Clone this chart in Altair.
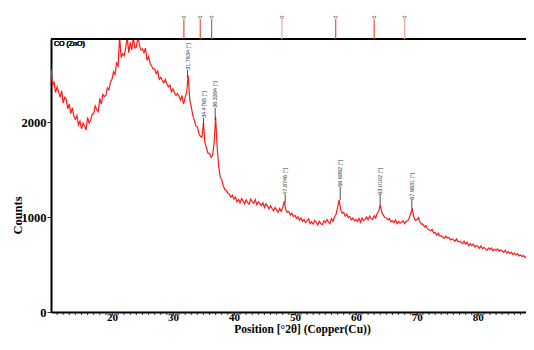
import altair as alt
import pandas as pd

# ---- data ----
theta_start = 10.0
theta_step = 0.25
counts = [
    2560, 2390, 2420, 2310,   # 10
    2370, 2320, 2260, 2330,   # 11
    2200, 2260, 2240, 2140,   # 12
    2190, 2090, 2150, 2060,   # 13
    2030, 2070, 1970, 2010,   # 14
    1930, 1990, 1960, 1915,   # 15
    2050, 1990, 2020, 2080,   # 16
    2090, 2170, 2130, 2110,   # 17
    2250, 2190, 2290, 2270,   # 18
    2280, 2360, 2340, 2420,   # 19
    2450, 2530, 2500, 2620,   # 20
    2590, 2900, 2680, 2720,   # 21
    2700, 2780, 2900, 2730,   # 22
    2840, 2760, 2900, 2780,   # 23
    2790, 2900, 2810, 2760,   # 24
    2770, 2730, 2780, 2650,   # 25
    2690, 2620, 2590, 2560,   # 26
    2560, 2510, 2540, 2450,   # 27
    2470, 2440, 2410, 2450,   # 28
    2400, 2370, 2390, 2320,   # 29
    2350, 2310, 2280, 2300,   # 30
    2270, 2230, 2280, 2190,   # 31
    2260, 2320, 2490, 2240,   # 32
    2160, 2070, 2020, 1960,   # 33
    1950, 1880, 1850, 1840,   # 34
    1990, 1780, 1730, 1670,   # 35
    1670, 1630, 1650, 1780,   # 36
    2050, 1740, 1530, 1420,   # 37
    1390, 1330, 1290, 1280,   # 38
    1250, 1240, 1210, 1230,   # 39
    1190, 1210, 1160, 1185,   # 40
    1150, 1195, 1170, 1140,   # 41
    1180, 1150, 1135, 1190,   # 42
    1160, 1145, 1185, 1130,   # 43
    1160, 1140, 1120, 1150,   # 44
    1100, 1140, 1115, 1085,   # 45
    1120, 1090, 1065, 1100,   # 46
    1075, 1050, 1090, 1060,   # 47
    1100, 1165, 1080, 1050,   # 48
    1060, 1020, 1040, 1005,   # 49
    1020, 985, 1005, 965,     # 50
    990, 955, 975, 940,       # 51
    960, 980, 930, 950,       # 52
    925, 965, 945, 915,       # 53
    955, 930, 920, 960,       # 54
    940, 975, 950, 930,       # 55
    985, 955, 1000, 1030,     # 56
    1100, 1180, 1080, 1040,   # 57
    1050, 1010, 1030, 995,    # 58
    1005, 970, 990, 960,      # 59
    975, 955, 985, 945,       # 60
    990, 960, 975, 1000,      # 61
    970, 1010, 985, 975,      # 62
    1015, 990, 1040, 1060,    # 63
    1130, 1050, 1020, 995,    # 64
    990, 970, 985, 950,       # 65
    960, 940, 970, 930,       # 66
    955, 935, 945, 960,       # 67
    930, 955, 960, 990,       # 68
    1040, 1080, 1000, 965,    # 69
    970, 995, 950, 925,       # 70
    925, 895, 910, 875,       # 71
    865, 855, 870, 830,       # 72
    840, 810, 830, 800,       # 73
    805, 790, 775, 800,       # 74
    780, 785, 760, 770,       # 75
    760, 745, 770, 740,       # 76
    745, 735, 720, 745,       # 77
    715, 735, 700, 720,       # 78
    700, 715, 685, 700,       # 79
    690, 670, 695, 665,       # 80
    680, 665, 650, 675,       # 81
    660, 675, 645, 660,       # 82
    650, 665, 640, 655,       # 83
    640, 630, 650, 620,       # 84
    635, 615, 630, 605,       # 85
    620, 600, 612, 590,       # 86
    600, 585, 595, 575,       # 87
    585,                      # 88
]
theta = [theta_start + theta_step * i for i in range(len(counts))]

# reference pattern markers (top strip)
ref_pos = [31.7934, 34.4765, 36.3384, 47.8746, 56.6892, 63.0102, 67.9931]
ref_color = ["#e8503c", "#e8503c", "#e8503c", "#f5a896", "#e8503c", "#e8503c", "#f5a896"]

# peak labels (as drawn in the main panel)
peak_text = ["31.7934 [°]", "34.4765 [°]", "36.3384 [°]", "47.8746 [°]",
             "56.6892 [°]", "63.0102 [°]", "67.9931 [°]"]
peak_x = [32.39, 35.02, 36.93, 48.41, 57.43, 63.98, 69.18]
label_base = [2550, 2045, 2150, 1235, 1319, 1235, 1182]
peak_top = [2467, 1970, 2024, 1150, 1182, 1130, 1077]

x_labels = [20, 30, 40, 50, 60, 70, 80]
x_minor = list(range(11, 88))
y_ticks = [0, 1000, 2000]

# ---- chart ----
W, H = 475, 273
XDOM = [10, 87.9]
YDOM = [0, 2875]
serif = "Liberation Serif"

df = pd.DataFrame({"theta": theta, "counts": counts})
refs = pd.DataFrame({"pos": ref_pos, "col": ref_color})
peaks = pd.DataFrame({"x": peak_x, "t": peak_text, "b": label_base, "p": peak_top})
minor = pd.DataFrame({"m": x_minor})

xs = alt.Scale(domain=XDOM, nice=False, zero=False)
ys = alt.Scale(domain=YDOM, nice=False)

line = alt.Chart(df).mark_line(color="#ff1a1a", strokeWidth=1.2, clip=True).encode(
    x=alt.X("theta:Q", scale=xs,
            axis=alt.Axis(values=x_labels, grid=False, format="d",
                          title="Position [°2θ] (Copper(Cu))",
                          titleFont=serif, titleFontWeight="bold", titleFontSize=11.5,
                          titleColor="black", titleX=251, titleY=20,
                          titleBaseline="alphabetic", titleAlign="center",
                          labelFont=serif, labelFontWeight="bold", labelFontSize=11,
                          labelColor="black", labelPadding=-4, labelBaseline="top",
                          labelOverlap=False, labelFlush=False,
                          tickSize=3, tickColor="#333", tickWidth=1,
                          domainColor="black", domainWidth=2)),
    y=alt.Y("counts:Q", scale=ys,
            axis=alt.Axis(values=y_ticks, grid=False, title="Counts", format="d",
                          titleFont=serif, titleFontWeight="bold", titleFontSize=12.5,
                          titleColor="black", titleX=-30, titleY=176,
                          titleBaseline="alphabetic", titleAngle=270,
                          titleAlign="center",
                          labelFont=serif, labelFontWeight="bold", labelFontSize=12.5,
                          labelColor="black", labelPadding=1,
                          tickSize=4, tickColor="#333",
                          domainColor="black", domainWidth=2)),
)

# minor ticks along the bottom axis (every 1 degree)
minor_ticks = alt.Chart(minor).mark_rule(color="#333", strokeWidth=1).encode(
    x=alt.X("m:Q", scale=xs), y=alt.value(H + 1), y2=alt.value(H + 3))

top_border = alt.Chart(refs).mark_rule(color="black", strokeWidth=2).encode(
    x=alt.value(0), x2=alt.value(W), y=alt.value(0))

ref_rules = alt.Chart(refs).mark_rule(strokeWidth=1.2).encode(
    x=alt.X("pos:Q", scale=xs),
    y=alt.value(-19), y2=alt.value(0),
    color=alt.Color("col:N", scale=None))

ref_marks = alt.Chart(refs).mark_point(shape="triangle-down", filled=False,
                                       size=14, color="#555", strokeWidth=0.8).encode(
    x=alt.X("pos:Q", scale=xs), y=alt.value(-21))

peak_rules = alt.Chart(peaks).mark_rule(color="#222", strokeWidth=0.8).encode(
    x=alt.X("x:Q", scale=xs),
    y=alt.Y("b:Q", scale=ys), y2="p:Q")

peak_labels = alt.Chart(peaks).mark_text(angle=270, align="left", baseline="middle",
                                         fontSize=5.5, color="#333",
                                         font="Liberation Sans").encode(
    x=alt.X("x:Q", scale=xs), y=alt.Y("b:Q", scale=ys), text="t:N")

co_label = alt.Chart(refs).mark_text(align="left", baseline="middle", fontSize=7,
                                     color="#222", font="Liberation Sans").encode(
    x=alt.value(3), y=alt.value(5), text=alt.value("CO (ZnO)"))

chart = alt.layer(line, minor_ticks, top_border, ref_rules, ref_marks, peak_rules,
                  peak_labels, co_label).properties(
    width=W, height=H,
    autosize=alt.AutoSizeParams(type="none"),
    padding={"left": 43, "top": 31, "right": 0, "bottom": 30},
).configure_view(stroke=None).configure(background="white")

chart.save("out.html", embed_options={"renderer": "svg", "actions": False})
